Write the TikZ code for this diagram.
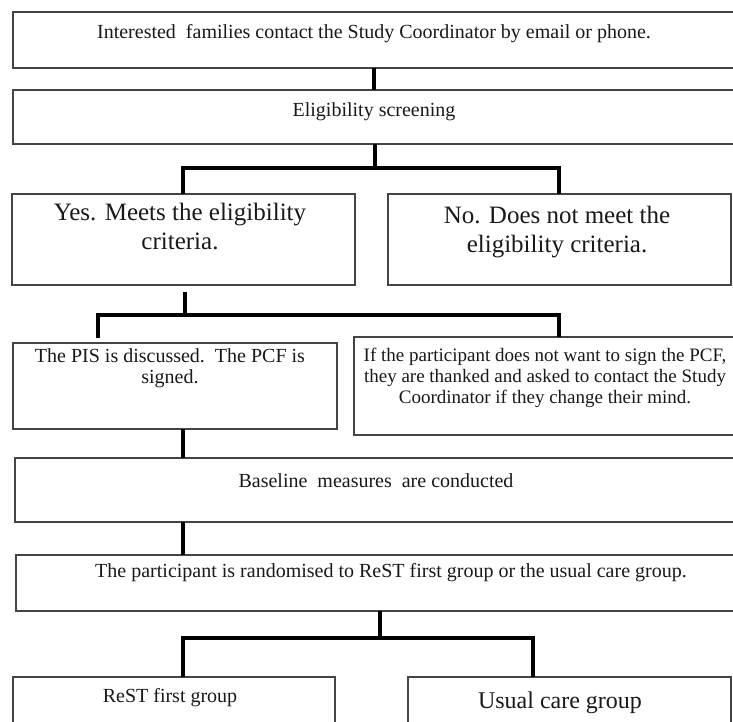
\documentclass[tikz,border=0pt]{standalone}
\usepackage{fontspec}
\setmainfont{Liberation Serif}
\usetikzlibrary{calc}
\definecolor{boxgray}{HTML}{444444}
\begin{document}
\begin{tikzpicture}[x=1pt,y=-1pt,
  box/.style={draw=boxgray, line width=1.6pt, rectangle, inner sep=0pt, outer sep=0pt, anchor=north west},
  conn/.style={line width=4pt, black, line join=miter},
  txt/.style={inner sep=0pt, align=center, text=black!90, font=\fontsize{20}{21}\selectfont},
  big/.style={font=\fontsize{25}{29}\selectfont},
  small/.style={font=\fontsize{19}{21}\selectfont}]
\clip (0,0) rectangle (733,722);
\fill[white] (0,0) rectangle (733,722);
% boxes
\node[box, minimum width=740pt, minimum height=56pt] (b1) at (13,12) {};
\node[box, minimum width=740pt, minimum height=54pt] (b2) at (13,90) {};
\node[box, minimum width=343pt, minimum height=91pt] (yes) at (12,194) {};
\node[box, minimum width=343pt, minimum height=91pt] (no) at (388,194) {};
\node[box, minimum width=324pt, minimum height=86pt] (pis) at (13,343) {};
\node[box, minimum width=400pt, minimum height=98pt] (ifb) at (354,337) {};
\node[box, minimum width=740pt, minimum height=64pt] (base) at (15,458) {};
\node[box, minimum width=740pt, minimum height=56pt] (rand) at (16,555) {};
\node[box, minimum width=322pt, minimum height=70pt] (rest) at (13,677) {};
\node[box, minimum width=323pt, minimum height=70pt] (usual) at (408,677) {};
% texts
\node[txt] (t1) at (374,34) {Interested\ \ families contact the Study Coordinator by email or phone.};
\node[txt] (t2) at (374,112) {Eligibility screening};
\node[txt, big] (tyes) at (180,227) {Yes. Meets the eligibility\\criteria.};
\node[txt, big] (tno) at (557,232) {No. Does not meet the\\eligibility criteria.};
\node[txt] (tpis) at (170,368) {The PIS is discussed.\ \ The PCF is\\signed.};
\node[txt, small] (tif) at (545,378) {If the participant does not want to sign the PCF,\\they are thanked and asked to contact the Study\\Coordinator if they change their mind.};
\node[txt] (tbase) at (376,481) {Baseline\ \ measures\ \ are conducted};
\node[txt] (trand) at (391,573) {The participant is randomised to ReST first group or the usual care group.};
\node[txt] (trest) at (170,698) {ReST first group};
\node[txt, font=\fontsize{24}{28}\selectfont] (tusual) at (560,703) {Usual care group};
% connector coordinates
\coordinate (xa) at (374,0);
\coordinate (s1) at (375,168);
\coordinate (s1L) at (183,168);
\coordinate (s1R) at (559,168);
\coordinate (s2) at (185,315);
\coordinate (s2L) at (98,315);
\coordinate (s2R) at (559,315);
\coordinate (xb) at (183,0);
\coordinate (s3) at (380,638);
\coordinate (s3L) at (183,638);
\coordinate (s3R) at (533,638);
% connectors
\draw[conn] (b1.south -| xa) -- (b2.north -| xa);
\draw[conn] (b2.south -| s1) -- (s1);
\draw[conn] (yes.north -| s1L) -- (s1L) -- (s1R) -- (no.north -| s1R);
\draw[conn] ($(yes.south -| s2)+(0,7)$) -- (s2);
\draw[conn] ($(pis.north -| s2L)+(0,-5)$) -- (s2L) -- (s2R) -- (ifb.north -| s2R);
\draw[conn] (pis.south -| xb) -- (base.north -| xb);
\draw[conn] (base.south -| xb) -- (rand.north -| xb);
\draw[conn] (rand.south -| s3) -- (s3);
\draw[conn] (rest.north -| s3L) -- (s3L) -- (s3R) -- (usual.north -| s3R);
\end{tikzpicture}
\end{document}
